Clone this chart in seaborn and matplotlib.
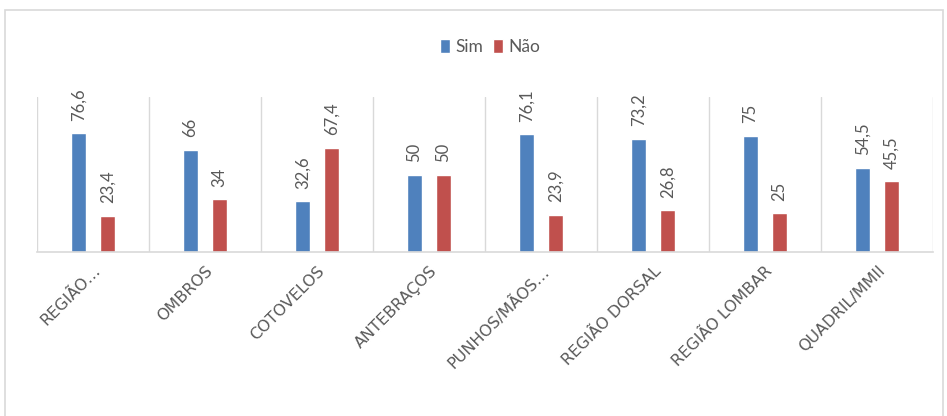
import matplotlib
matplotlib.use("Agg")
import matplotlib.pyplot as plt
import numpy as np
import pandas as pd
import seaborn as sns
from matplotlib.patches import Rectangle

CATEGORIES = ["REGIÃO…", "OMBROS", "COTOVELOS", "ANTEBRAÇOS", "PUNHOS/MÃOS…",
              "REGIÃO DORSAL", "REGIÃO LOMBAR", "QUADRIL/MMII"]
SIM = [76.6, 66, 32.6, 50, 76.1, 73.2, 75, 54.5]
NAO = [23.4, 34, 67.4, 50, 23.9, 26.8, 25, 45.5]
SERIES = ["Sim", "Não"]
COLORS = ["#4F81BD", "#C0504D"]
TEXT_COLOR = "#595959"
GRID_COLOR = "#D9D9D9"

sns.set_theme(style="white")
plt.rcParams["font.family"] = ["Lato", "DejaVu Sans"]

df = pd.DataFrame({
    "categoria": CATEGORIES * 2,
    "valor": SIM + NAO,
    "resposta": [SERIES[0]] * len(SIM) + [SERIES[1]] * len(NAO),
})

fig = plt.figure(figsize=(9.47, 4.16), dpi=100)
ax = fig.add_axes([37 / 947, 1 - 252 / 416, 896 / 947, 155 / 416])

sns.barplot(data=df, x="categoria", y="valor", hue="resposta", palette=COLORS,
            saturation=1, width=0.52, gap=0.47, ax=ax, legend=True)

def fmt(v):
    return f"{v:g}".replace(".", ",")

for container, vals in zip(ax.containers, [SIM, NAO]):
    ax.bar_label(container, labels=[fmt(v) for v in vals], rotation=90,
                 padding=9, fontsize=12, color=TEXT_COLOR)

ax.set_ylim(0, 100)
ax.set_xlim(-0.5, len(CATEGORIES) - 0.5)
ax.set_yticks([])
ax.set_xlabel("")
ax.set_ylabel("")
for side in ["top", "left", "right"]:
    ax.spines[side].set_visible(False)
ax.spines["bottom"].set_color(GRID_COLOR)
ax.spines["bottom"].set_linewidth(1.2)

ax.set_xticks(np.arange(-0.5, len(CATEGORIES), 1), minor=True)
ax.grid(which="minor", axis="x", color=GRID_COLOR, linewidth=1.0)
ax.tick_params(axis="x", which="both", length=0)
ax.set_xticks(range(len(CATEGORIES)))
ax.set_xticklabels(CATEGORIES, rotation=45, ha="right", rotation_mode="anchor",
                   fontsize=11.5, color=TEXT_COLOR, family=["DejaVu Sans"])
ax.tick_params(axis="x", pad=8)

handles, labels = ax.get_legend_handles_labels()
ax.get_legend().remove()
fig.legend(handles, labels, loc="center", bbox_to_anchor=(490 / 947, 1 - 47 / 416),
           ncol=2, frameon=False, fontsize=12.5, handlelength=0.55, handleheight=0.9,
           handletextpad=0.3, columnspacing=0.6, labelcolor=TEXT_COLOR)

fig.patches.append(Rectangle((5 / 947, -0.05), 938 / 947, 1.05 - 10 / 416,
                             transform=fig.transFigure, fill=False,
                             edgecolor=GRID_COLOR, linewidth=1.2))

fig.savefig("out.png", dpi=100, facecolor="white")
